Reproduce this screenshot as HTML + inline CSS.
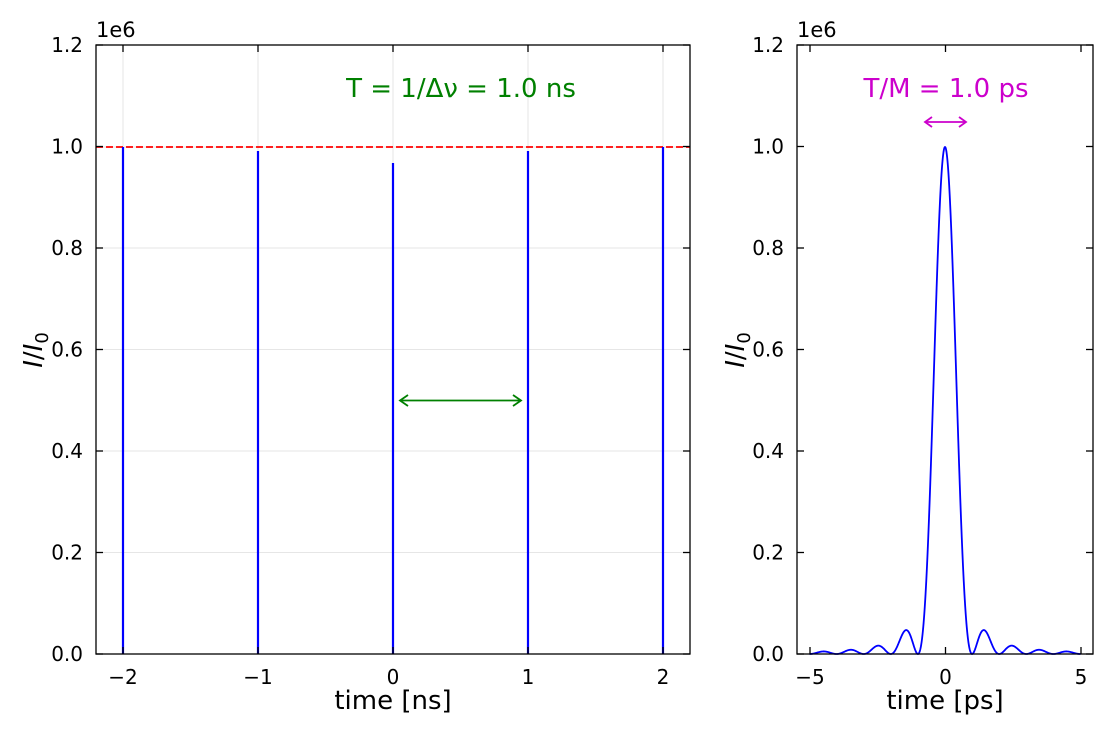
<!DOCTYPE html>
<html><head><meta charset="utf-8"><style>
body{margin:0;background:#fff;}
svg{display:block;font-family:"DejaVu Sans","Liberation Sans",sans-serif;}
</style></head><body>
<svg id="s" width="1113" height="733" viewBox="0 0 1113 733" xmlns="http://www.w3.org/2000/svg">
<rect width="1113" height="733" fill="#fff"/>
<g stroke="#e6e6e6" stroke-width="1">
<line x1="123" y1="45" x2="123" y2="654"/><line x1="258" y1="45" x2="258" y2="654"/><line x1="393" y1="45" x2="393" y2="654"/><line x1="528" y1="45" x2="528" y2="654"/><line x1="663" y1="45" x2="663" y2="654"/>
<line x1="96" y1="552.5" x2="690" y2="552.5"/><line x1="96" y1="451" x2="690" y2="451"/><line x1="96" y1="349.5" x2="690" y2="349.5"/><line x1="96" y1="248" x2="690" y2="248"/><line x1="96" y1="147" x2="690" y2="147"/>
</g>
<line x1="96" y1="147" x2="690" y2="147" stroke="red" stroke-width="1.8" stroke-dasharray="7,3"/>
<g stroke="blue" stroke-width="2.2">
<line x1="123" y1="654" x2="123" y2="147"/><line x1="258" y1="654" x2="258" y2="151"/><line x1="393" y1="654" x2="393" y2="163"/><line x1="528" y1="654" x2="528" y2="151"/><line x1="663" y1="654" x2="663" y2="147"/>
</g>
<g stroke="green" stroke-width="1.8" fill="none">
<line x1="401" y1="400.5" x2="520" y2="400.5"/><path d="M408,395 L400,400.5 L408,406 M513,395 L521,400.5 L513,406"/>
</g>
<text x="461" y="97" fill="green" font-size="26" text-anchor="middle">T = 1/Δν = 1.0 ns</text>
<g stroke="#c0c" stroke-width="1.8" fill="none">
<line x1="926" y1="122" x2="965" y2="122"/><path d="M932,117 L925,122 L932,127 M959,117 L966,122 L959,127"/>
</g>
<text x="946" y="97" fill="#c0c" font-size="26" text-anchor="middle">T/M = 1.0 ps</text>
<path id="curve" fill="none" stroke="blue" stroke-width="1.8"/>
<g id="ax" stroke="#000" stroke-width="1.3" fill="none">
<rect x="96" y="45" width="594" height="609"/>
<rect x="797" y="45" width="296" height="609"/>
</g>
<g id="lab" font-size="20" fill="#000"></g>
<text x="96" y="37" font-size="21">1e6</text>
<text x="797" y="37" font-size="21">1e6</text>
<text x="393" y="709" font-size="26" text-anchor="middle">time [ns]</text>
<text x="945" y="709" font-size="26" text-anchor="middle">time [ps]</text>
<text transform="translate(42,350) rotate(-90)" font-size="26" text-anchor="middle"><tspan font-style="italic">I</tspan>/<tspan font-style="italic">I</tspan><tspan font-size="18" dy="6">0</tspan></text>
<text transform="translate(744,350) rotate(-90)" font-size="26" text-anchor="middle"><tspan font-style="italic">I</tspan>/<tspan font-style="italic">I</tspan><tspan font-size="18" dy="6">0</tspan></text>
</svg>
<script>
var NS="http://www.w3.org/2000/svg",s=document.getElementById('s'),ax=document.getElementById('ax'),lab=document.getElementById('lab');
function ln(x1,y1,x2,y2){var l=document.createElementNS(NS,'line');l.setAttribute('x1',x1);l.setAttribute('y1',y1);l.setAttribute('x2',x2);l.setAttribute('y2',y2);ax.appendChild(l);}
function tx(x,y,t,a){var e=document.createElementNS(NS,'text');e.setAttribute('x',x);e.setAttribute('y',y);e.setAttribute('text-anchor',a);e.textContent=t;lab.appendChild(e);}
var yl=['0.0','0.2','0.4','0.6','0.8','1.0','1.2'];
[[96,690],[797,1093]].forEach(function(b){
 for(var i=0;i<7;i++){var y=654-i*101.5;ln(b[0],y,b[0]+7,y);ln(b[1],y,b[1]-7,y);tx(b[0]-13,y+7,yl[i],'end');}
});
var xl=['\u22122','\u22121','0','1','2'];
for(var i=0;i<5;i++){var x=123+i*135;ln(x,654,x,647);ln(x,45,x,52);tx(x,684,xl[i],'middle');}
var xr=['\u22125','0','5'];
for(var i=0;i<3;i++){var x=810+i*135.5;ln(x,654,x,647);ln(x,45,x,52);tx(x,684,xr[i],'middle');}
var d='';
for(var k=0;k<=1100;k++){var t=-5+k*10/1100;var v=Math.abs(t)<1e-9?1:Math.pow(Math.sin(Math.PI*t)/(Math.PI*t),2);
 var x=945+t*27.1,y=654-v*507;d+=(k?'L':'M')+x.toFixed(2)+','+y.toFixed(2);}
document.getElementById('curve').setAttribute('d',d);
</script>
</body></html>
